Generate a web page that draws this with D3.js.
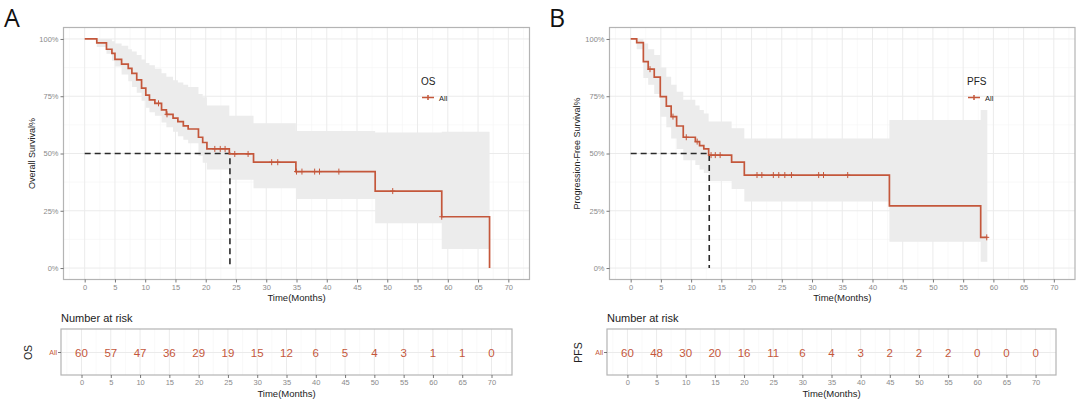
<!DOCTYPE html>
<html><head><meta charset="utf-8">
<script src="https://cdn.jsdelivr.net/npm/d3@7"></script>
<style>body{margin:0;background:#fff}svg{display:block}text{font-family:"Liberation Sans",Arial,sans-serif}</style>
</head><body><svg id="c" width="1080" height="403"></svg>
<script>
// ---------- data ----------
const xTicks = [0,5,10,15,20,25,30,35,40,45,50,55,60,65,70];
const yTicks = [0,0.25,0.5,0.75,1];
const yTickLabels = ["0%","25%","50%","75%","100%"];

// Overall survival (step start times and survival after the step)
const osTimes = [0,2.0,3.6,4.5,5.0,6.1,7.2,7.8,8.6,9.4,10.1,10.7,11.6,12.7,13.5,14.6,15.4,16.3,17.1,18.8,19.5,20.2,23.9,27.9,34.9,48.0,59.0,66.9];
const osSurv  = [1,0.983,0.955,0.937,0.911,0.89,0.872,0.85,0.821,0.785,0.755,0.734,0.719,0.69,0.671,0.654,0.639,0.621,0.607,0.571,0.548,0.52,0.498,0.462,0.421,0.336,0.224,0];
const osEnd = 66.9;
const osBandT  = [0,2.0,3.6,4.5,5.0,6.1,7.2,7.8,8.6,9.4,10.1,10.7,11.6,12.7,13.5,14.6,15.4,16.3,17.1,18.8,19.5,20.2,23.9,27.9,34.9,48.0,59.0];
const osBandLo = [1,0.965,0.935,0.905,0.88,0.845,0.815,0.79,0.765,0.73,0.70,0.68,0.665,0.635,0.615,0.595,0.575,0.56,0.545,0.49,0.46,0.43,0.385,0.348,0.301,0.195,0.083];
const osBandHi = [1,1,1,0.99,0.98,0.97,0.955,0.945,0.93,0.91,0.895,0.885,0.87,0.85,0.835,0.82,0.81,0.80,0.79,0.76,0.745,0.71,0.665,0.632,0.598,0.592,0.595];
const osCensor = [12.2,13.6,21.5,22.4,23.2,24.8,27.0,30.9,31.9,35.0,35.9,38.0,38.8,42.0,50.9,59.0];
const osMedian = 24;
const osRisk = [60,57,47,36,29,19,15,12,6,5,4,3,1,1,0];

// Progression-free survival
const pfsTimes = [0,1.0,2.1,2.9,3.9,4.9,5.9,6.7,7.6,8.7,10.7,11.4,12.1,12.9,16.7,18.8,42.8,57.9];
const pfsSurv  = [1,0.984,0.901,0.868,0.833,0.748,0.707,0.661,0.62,0.571,0.552,0.534,0.52,0.493,0.462,0.406,0.271,0.134];
const pfsEnd = 59.0;
const pfsBandT  = [0,1.0,2.1,2.9,3.9,4.9,5.9,6.7,7.6,8.7,10.7,11.4,12.1,12.9,16.7,18.8,42.8,57.9];
const pfsBandLo = [1,0.955,0.83,0.80,0.76,0.66,0.615,0.565,0.52,0.47,0.45,0.43,0.415,0.38,0.345,0.29,0.115,0.028];
const pfsBandHi = [1,1,0.98,0.955,0.93,0.875,0.835,0.80,0.77,0.735,0.71,0.69,0.675,0.64,0.61,0.566,0.646,0.69];
const pfsCensor = [3.2,7.0,9.2,11.0,13.3,14.0,14.8,20.9,21.7,23.6,24.5,25.5,26.6,31.1,31.9,35.9,58.9];
const pfsMedian = 13;
const pfsRisk = [60,48,30,20,16,11,6,4,3,2,2,2,0,0,0];

// ---------- drawing ----------
const svg = d3.select("#c");
const RED = "#c4573b";
const BAND = "#ececec";
const BORDER = "#b4b4b4";
const GRID_MAJ = "#ebebeb", GRID_MIN = "#f5f5f5";
const TICKTXT = "#8a8a8a";

function panel(cfg){
  const g = svg.append("g");
  // letter
  g.append("text").attr("x",cfg.letterX).attr("y",27).attr("font-size",25)
    .attr("fill","#111").style("font-family","'Open Sans',sans-serif").text(cfg.letter);

  const x = d3.scaleLinear().domain([-3.5,73.5]).range([cfg.x0,cfg.x1]);
  const y = d3.scaleLinear().domain([-0.05,1.05]).range([279.5,27.5]);
  const top = y(1.05), bot = y(-0.05);

  // grid
  const xMinor = d3.range(-2.5,73.5,5);
  const yMinor = [0.125,0.375,0.625,0.875];
  g.selectAll(null).data(xMinor).join("line").attr("x1",d=>x(d)).attr("x2",d=>x(d))
    .attr("y1",top).attr("y2",bot).attr("stroke",GRID_MIN).attr("stroke-width",0.6);
  g.selectAll(null).data(yMinor).join("line").attr("y1",d=>y(d)).attr("y2",d=>y(d))
    .attr("x1",cfg.x0).attr("x2",cfg.x1).attr("stroke",GRID_MIN).attr("stroke-width",0.6);
  g.selectAll(null).data(xTicks).join("line").attr("x1",d=>x(d)).attr("x2",d=>x(d))
    .attr("y1",top).attr("y2",bot).attr("stroke",GRID_MAJ).attr("stroke-width",1);
  g.selectAll(null).data(yTicks).join("line").attr("y1",d=>y(d)).attr("y2",d=>y(d))
    .attr("x1",cfg.x0).attr("x2",cfg.x1).attr("stroke",GRID_MAJ).attr("stroke-width",1);

  // CI band
  const band = cfg.bandT.map((t,i)=>({t,lo:cfg.bandLo[i],hi:cfg.bandHi[i]}));
  band.push({t:cfg.end,lo:cfg.bandLo[cfg.bandLo.length-1],hi:cfg.bandHi[cfg.bandHi.length-1]});
  g.append("path").datum(band)
    .attr("d",d3.area().x(d=>x(d.t)).y0(d=>y(d.lo)).y1(d=>y(d.hi)).curve(d3.curveStepAfter))
    .attr("fill",BAND);

  // median lines
  g.append("path").attr("d",`M${x(0)},${y(0.5)}H${x(cfg.median)}V${y(0)}`)
    .attr("fill","none").attr("stroke","#2a2a2a").attr("stroke-width",1.6).attr("stroke-dasharray","6,4");

  // KM curve
  const pts = cfg.times.map((t,i)=>({t,s:cfg.surv[i]}));
  pts.push({t:cfg.end,s:cfg.surv[cfg.surv.length-1]});
  g.append("path").datum(pts)
    .attr("d",d3.line().x(d=>x(d.t)).y(d=>y(d.s)).curve(d3.curveStepAfter))
    .attr("fill","none").attr("stroke",RED).attr("stroke-width",1.7);

  // censor marks
  const survAt = t => { let s=1; cfg.times.forEach((tt,i)=>{ if(tt<=t) s=cfg.surv[i]; }); return s; };
  g.selectAll(null).data(cfg.censor).join("path")
    .attr("d",d=>`M${x(d)},${y(survAt(d))-3}v6M${x(d)-2.5},${y(survAt(d))}h5`)
    .attr("stroke",RED).attr("stroke-width",1).attr("fill","none");

  // border
  g.append("rect").attr("x",cfg.x0).attr("y",top).attr("width",cfg.x1-cfg.x0).attr("height",bot-top)
    .attr("fill","none").attr("stroke",BORDER).attr("stroke-width",1.2);

  // axes
  const xa = g.append("g").attr("transform",`translate(0,${bot})`)
    .call(d3.axisBottom(x).tickValues(xTicks).tickSize(3).tickPadding(2).tickFormat((d,i)=>String(xTicks[i])));
  const ya = g.append("g").attr("transform",`translate(${cfg.x0},0)`)
    .call(d3.axisLeft(y).tickValues(yTicks).tickSize(3).tickPadding(2).tickFormat((d,i)=>yTickLabels[i]));
  [xa,ya].forEach(a=>{
    a.select(".domain").remove();
    a.selectAll(".tick line").attr("stroke","#555").attr("stroke-width",0.8);
    a.selectAll(".tick text").attr("fill",TICKTXT).attr("font-size",7.5)
      .style("font-family","'Liberation Sans',Arial,sans-serif");
  });
  g.append("text").attr("x",(cfg.x0+cfg.x1)/2).attr("y",301).attr("text-anchor","middle")
    .attr("font-size",9.5).attr("fill","#222").text("Time(Months)");
  g.append("text").attr("transform",`translate(${cfg.yTitleX},${y(0.5)}) rotate(-90)`)
    .attr("text-anchor","middle").attr("font-size",9).attr("fill","#222").text(cfg.yTitle);

  // legend
  g.append("text").attr("x",cfg.legX).attr("y",85).attr("font-size",10).attr("fill","#222").text(cfg.legTitle);
  g.append("path").attr("d",`M${cfg.legX+1},97.5h12M${cfg.legX+7},95v5`).attr("stroke",RED).attr("stroke-width",1.5);
  g.append("text").attr("x",cfg.legX+18).attr("y",100.5).attr("font-size",7.5).attr("fill","#222").text("All");

  // risk table
  const rx = d3.scaleLinear().domain([-3.5,73.5]).range([cfg.r0,cfg.r1]);
  const rTop = 329, rBot = 375, rRow = 352.5;
  g.append("text").attr("x",cfg.r0).attr("y",322).attr("font-size",11).attr("fill","#222").text("Number at risk");
  g.selectAll(null).data(xMinor).join("line").attr("x1",d=>rx(d)).attr("x2",d=>rx(d))
    .attr("y1",rTop).attr("y2",rBot).attr("stroke",GRID_MIN).attr("stroke-width",0.6);
  g.selectAll(null).data(xTicks).join("line").attr("x1",d=>rx(d)).attr("x2",d=>rx(d))
    .attr("y1",rTop).attr("y2",rBot).attr("stroke",GRID_MAJ).attr("stroke-width",1);
  g.append("line").attr("x1",cfg.r0).attr("x2",cfg.r1).attr("y1",rRow).attr("y2",rRow)
    .attr("stroke",GRID_MAJ).attr("stroke-width",1);
  g.selectAll(null).data(cfg.risk).join("text")
    .attr("x",(d,i)=>rx(xTicks[i])).attr("y",rRow+4).attr("text-anchor","middle")
    .attr("font-size",11.5).attr("fill",RED).text(d=>d);
  g.append("rect").attr("x",cfg.r0).attr("y",rTop).attr("width",cfg.r1-cfg.r0).attr("height",rBot-rTop)
    .attr("fill","none").attr("stroke",BORDER).attr("stroke-width",1.2);
  const ra = g.append("g").attr("transform",`translate(0,${rBot})`)
    .call(d3.axisBottom(rx).tickValues(xTicks).tickSize(3).tickPadding(2).tickFormat((d,i)=>String(xTicks[i])));
  ra.select(".domain").remove();
  ra.selectAll(".tick line").attr("stroke","#555").attr("stroke-width",0.8);
  ra.selectAll(".tick text").attr("fill",TICKTXT).attr("font-size",7.5)
    .style("font-family","'Liberation Sans',Arial,sans-serif");
  g.append("line").attr("x1",cfg.r0-3).attr("x2",cfg.r0).attr("y1",rRow).attr("y2",rRow).attr("stroke","#555").attr("stroke-width",0.8);
  g.append("text").attr("x",cfg.r0-4).attr("y",rRow+2.5).attr("text-anchor","end")
    .attr("font-size",7).attr("fill",RED).text("All");
  g.append("text").attr("x",(cfg.r0+cfg.r1)/2).attr("y",397).attr("text-anchor","middle")
    .attr("font-size",9.5).attr("fill","#222").text("Time(Months)");
  g.append("text").attr("transform",`translate(${cfg.rLabX},${rRow}) rotate(-90)`)
    .attr("text-anchor","middle").attr("font-size",10.5).attr("fill","#222").text(cfg.rLab);
}

panel({letter:"A",letterX:4,x0:63.5,x1:529.5,times:osTimes,surv:osSurv,end:osEnd,
  bandT:osBandT,bandLo:osBandLo,bandHi:osBandHi,censor:osCensor,median:osMedian,
  yTitle:"Overall Survival%",yTitleX:35,legTitle:"OS",legX:421,
  r0:61,r1:512,risk:osRisk,rLab:"OS",rLabX:32});
panel({letter:"B",letterX:549,x0:609.5,x1:1075,times:pfsTimes,surv:pfsSurv,end:pfsEnd,
  bandT:pfsBandT,bandLo:pfsBandLo,bandHi:pfsBandHi,censor:pfsCensor,median:pfsMedian,
  yTitle:"Progression-Free Survival%",yTitleX:580,legTitle:"PFS",legX:967,
  r0:607,r1:1056,risk:pfsRisk,rLab:"PFS",rLabX:582});
</script></body></html>
